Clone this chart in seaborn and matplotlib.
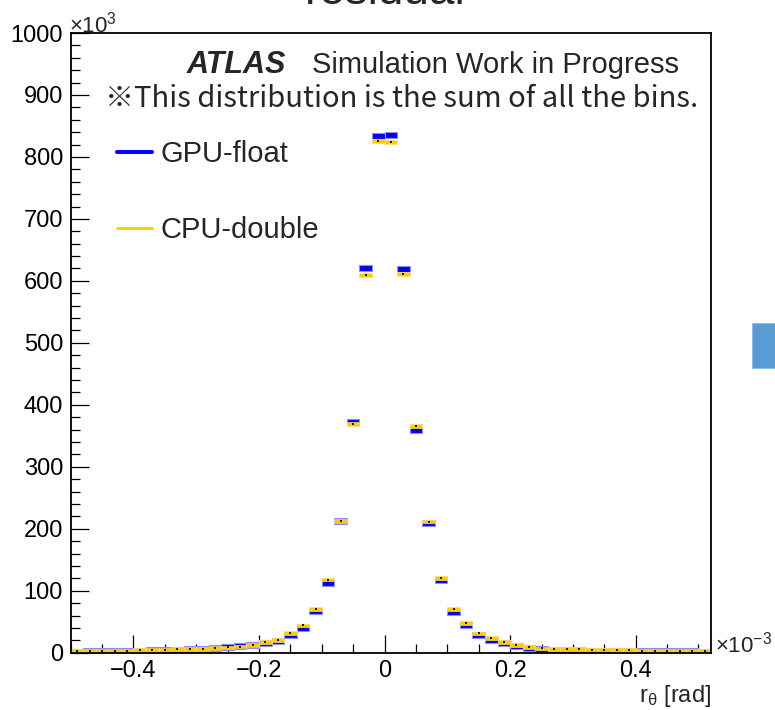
import numpy as np
import pandas as pd
import matplotlib
matplotlib.use("Agg")
import matplotlib.pyplot as plt
from matplotlib.patches import Rectangle
from matplotlib.lines import Line2D
from matplotlib.ticker import MultipleLocator
import seaborn as sns

# Histogram binning of the theta residual (units of 1e-3 rad)
bin_lo = -0.5
bin_width = 0.02

# Entries per bin (units of 1e3), GPU single precision vs CPU double precision
gpu_float = [1.5, 2.5, 2.5, 3, 3, 3.5, 4, 4.5, 5, 5.5,
             6, 7.5, 9, 10.5, 13, 15, 19, 28, 40, 67,
             113, 212, 373, 620, 834, 836, 619, 359, 208.5, 117,
             65.5, 44, 28, 21, 15, 10.8, 7.5, 6, 5, 4.5,
             4, 3.5, 3.5, 3, 3, 2.5, 2.5, 2, 2, 2, 1.5]
cpu_double = [2.5, 3, 3, 3, 3.5, 4.5, 4.5, 5, 5.5, 6,
              6.5, 7.5, 8.5, 10, 12.5, 17.5, 20.5, 32, 44, 70.5,
              118, 212, 369, 609, 826, 824, 611, 366, 211.5, 120,
              71, 48, 31, 24, 17.8, 12.4, 9, 7, 6.5, 6,
              5.5, 5, 5, 4.5, 4, 3.5, 3.5, 3, 3, 3, 2.5]
series_names = ["GPU-float", "CPU-double"]

x_ticks = [-0.4, -0.2, 0.0, 0.2, 0.4]
x_tick_labels = ["\u22120.4", "\u22120.2", "0", "0.2", "0.4"]
y_ticks = [0, 100, 200, 300, 400, 500, 600, 700, 800, 900, 1000]
y_tick_labels = [str(v) for v in y_ticks]

edges = bin_lo + bin_width * np.arange(len(gpu_float))
centers = edges + bin_width / 2
df = pd.DataFrame({
    "left": np.tile(edges, 2),
    "center": np.tile(centers, 2),
    "count": gpu_float + cpu_double,
    "series": np.repeat(series_names, len(gpu_float)),
})

sns.set_theme(style="ticks")
plt.rcParams["font.family"] = ["Liberation Sans", "DejaVu Sans"]
plt.rcParams["mathtext.fontset"] = "custom"
plt.rcParams["mathtext.rm"] = "Liberation Sans"
plt.rcParams["mathtext.it"] = "Liberation Sans:italic"
plt.rcParams["mathtext.default"] = "regular"

W, H = 775, 710
fig = plt.figure(figsize=(W / 100, H / 100), dpi=100, facecolor="white")
ax = fig.add_axes([70.7 / W, 1 - 652.7 / H, (711 - 70.7) / W, (652.7 - 33) / H])
ax.set_facecolor("white")

# error-box style per series: fill, edge, box height in data units
styles = {
    "GPU-float": dict(color="#0000ff", edge="#8c8cff", h=9.7, lw=0.8),
    "CPU-double": dict(color="#ffcc00", edge="#ffdd66", h=6.0, lw=0.5),
}
for name in series_names:
    sub = df[df["series"] == name]
    st = styles[name]
    ax.bar(sub["left"], st["h"], width=bin_width, bottom=sub["count"] - st["h"] / 2,
           align="edge", color=st["color"], edgecolor=st["edge"], linewidth=st["lw"])
    sns.scatterplot(data=sub, x="center", y="count", ax=ax, color="#1a1a1a",
                    marker="s", s=3, linewidth=0, legend=False)

ax.set_xlim(-0.5, 0.52)
ax.set_ylim(0, 1000)
ax.set_xticks(x_ticks, x_tick_labels)
ax.set_yticks(y_ticks, y_tick_labels)
ax.xaxis.set_minor_locator(MultipleLocator(0.05))
ax.yaxis.set_minor_locator(MultipleLocator(20))
ax.tick_params(which="both", direction="in", top=False, right=False,
               labelsize=17, pad=5.5, width=0.9, color="black", labelcolor="black")
ax.tick_params(which="major", length=13)
ax.tick_params(which="minor", length=6.5)
for sp in ax.spines.values():
    sp.set_linewidth(1.3)
    sp.set_color("black")
ax.set_xlabel("")
ax.set_ylabel("")

handles = [Line2D([], [], color="#0000ff", lw=2.9),
           Line2D([], [], color="#ffcc00", lw=2.0)]
ax.legend(handles, series_names, loc="upper left",
          bbox_to_anchor=((117 - 70.7) / 640.3, (652.7 - 140) / 619.7),
          frameon=False, fontsize=21, handlelength=1.2, handletextpad=0.3,
          labelspacing=1.64, borderpad=0, borderaxespad=0)

fig.text(187 / W, 1 - 73 / H, "ATLAS", fontsize=22, fontweight="bold",
         fontstyle="italic", va="baseline")
fig.text(312 / W, 1 - 73 / H, "Simulation Work in Progress", fontsize=21, va="baseline")
fig.text(105 / W, 1 - 107 / H, "\u203bThis distribution is the sum of all the bins.",
         fontsize=21, va="baseline", family=["Noto Sans CJK JP", "DejaVu Sans"])

fig.text(385 / W, 1 - 4 / H, "residual", fontsize=33, ha="center", va="baseline")
fig.text(69 / W, 1 - 32 / H, r"$\times10^{3}$", fontsize=16, va="baseline")
fig.text(715 / W, 1 - 653 / H, r"$\times10^{-3}$", fontsize=16, va="baseline")
fig.text(711 / W, 1 - 701.7 / H, r"$r_{\theta}$ [rad]", fontsize=17, ha="right", va="baseline")

fig.add_artist(Rectangle((752 / W, 1 - 368 / H), 23 / W, 45 / H,
                         transform=fig.transFigure, facecolor="#5b9bd5",
                         edgecolor="#8fbbe3", linewidth=0.6))

fig.savefig("out.png", dpi=100, facecolor="white")
